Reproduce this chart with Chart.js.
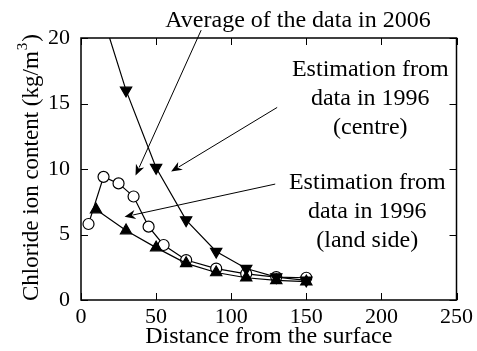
<!DOCTYPE html>
<html>
<head>
<meta charset="utf-8">
<script src="https://cdn.jsdelivr.net/npm/chart.js@4/dist/chart.umd.min.js"></script>
<style>
  html, body { margin: 0; padding: 0; background: #fff; }
  #wrap { width: 477px; height: 351px; }
</style>
</head>
<body>
<div id="wrap"><canvas id="chloride" width="477" height="351"></canvas></div>
<script>
// Chloride ion content vs depth, three profiles
const xTicks = [0, 50, 100, 150, 200, 250];
const yTicks = [0, 5, 10, 15, 20];

// average of the data in 2006 (first point runs off the top)
const avgDepth = [10, 30, 50, 70, 90, 110, 130, 150];
const avgCl    = [23.3, 16.0, 10.1, 6.1, 3.7, 2.4, 1.75, 1.5];

// estimation from 1996 data, centre
const centreDepth = [5, 15, 25, 35, 45, 55, 70, 90, 110, 130, 150];
const centreCl    = [5.8, 9.4, 8.9, 7.9, 5.6, 4.2, 3.05, 2.4, 2.0, 1.75, 1.7];

// estimation from 1996 data, land side
const landDepth = [10, 30, 50, 70, 90, 110, 130, 150];
const landCl    = [6.9, 5.3, 4.0, 2.8, 2.1, 1.7, 1.5, 1.4];

const FONT = '"Liberation Serif", "Times New Roman", serif';

function pts(xs, ys) {
  return xs.map((x, i) => ({ x: x, y: ys[i] }));
}

// callout labels with arrows, in data units
const notes = [
  { lines: ['Average of the data in 2006'], x: 144.5, y: 21.34, from: [80, 20.6], to: [36.3, 9.5] },
  { lines: ['Estimation from', 'data in 1996', '(centre)'], x: 192.6, y: 17.56, from: [130.6, 14.7], to: [60, 9.8] },
  { lines: ['Estimation from', 'data in 1996', '(land side)'], x: 190.6, y: 8.93, from: [129.3, 8.85], to: [29, 6.35] }
];

// frame + inward ticks on all four sides
const framePlugin = {
  id: 'frame',
  afterDraw(chart) {
    const { ctx, chartArea: a, scales } = chart;
    ctx.save();
    ctx.strokeStyle = '#000';
    ctx.lineWidth = 1.5;
    ctx.strokeRect(a.left, a.top, a.right - a.left, a.bottom - a.top);
    ctx.lineWidth = 1;
    const len = 7;
    ctx.beginPath();
    xTicks.forEach(v => {
      const px = Math.round(scales.x.getPixelForValue(v)) + 0.5;
      ctx.moveTo(px, a.bottom); ctx.lineTo(px, a.bottom - len);
      ctx.moveTo(px, a.top); ctx.lineTo(px, a.top + len);
    });
    yTicks.forEach(v => {
      const py = Math.round(scales.y.getPixelForValue(v)) + 0.5;
      ctx.moveTo(a.left, py); ctx.lineTo(a.left + len, py);
      ctx.moveTo(a.right, py); ctx.lineTo(a.right - len, py);
    });
    ctx.stroke();
    ctx.restore();
  }
};

// y title with a real superscript 3
const yTitlePlugin = {
  id: 'ytitle',
  afterDraw(chart) {
    const ctx = chart.ctx;
    ctx.save();
    ctx.fillStyle = '#000';
    ctx.translate(37.5, 301);
    ctx.rotate(-Math.PI / 2);
    ctx.textAlign = 'left';
    ctx.textBaseline = 'alphabetic';
    ctx.font = '23px ' + FONT;
    const main = 'Chloride ion content (kg/m';
    ctx.fillText(main, 0, 0);
    let w = ctx.measureText(main).width + 1;
    ctx.font = '15px ' + FONT;
    ctx.fillText('3', w, -11);
    w += ctx.measureText('3').width + 1;
    ctx.font = '23px ' + FONT;
    ctx.fillText(')', w, 0);
    ctx.restore();
  }
};

const notePlugin = {
  id: 'notes',
  afterDraw(chart) {
    const { ctx, scales } = chart;
    const sx = v => scales.x.getPixelForValue(v);
    const sy = v => scales.y.getPixelForValue(v);
    ctx.save();
    ctx.fillStyle = '#000';
    ctx.strokeStyle = '#000';
    ctx.lineWidth = 1;
    ctx.font = '24px ' + FONT;
    ctx.textAlign = 'center';
    ctx.textBaseline = 'middle';
    notes.forEach(n => {
      n.lines.forEach((t, i) => ctx.fillText(t, sx(n.x), sy(n.y) + i * 28.8));
      const x1 = sx(n.from[0]), y1 = sy(n.from[1]);
      const x2 = sx(n.to[0]), y2 = sy(n.to[1]);
      const ang = Math.atan2(y2 - y1, x2 - x1);
      const hl = 11, hw = 4.5;
      ctx.beginPath();
      ctx.moveTo(x1, y1);
      ctx.lineTo(x2 - Math.cos(ang) * hl * 0.8, y2 - Math.sin(ang) * hl * 0.8);
      ctx.stroke();
      ctx.beginPath();
      ctx.moveTo(x2, y2);
      ctx.lineTo(x2 - Math.cos(ang) * hl - Math.sin(ang) * hw, y2 - Math.sin(ang) * hl + Math.cos(ang) * hw);
      ctx.lineTo(x2 - Math.cos(ang) * hl * 0.7, y2 - Math.sin(ang) * hl * 0.7);
      ctx.lineTo(x2 - Math.cos(ang) * hl + Math.sin(ang) * hw, y2 - Math.sin(ang) * hl - Math.cos(ang) * hw);
      ctx.closePath();
      ctx.fill();
    });
    ctx.restore();
  }
};

Chart.defaults.font.family = FONT;
Chart.defaults.color = '#000';

new Chart(document.getElementById('chloride'), {
  type: 'line',
  data: {
    datasets: [
      {
        label: 'Average of the data in 2006',
        data: pts(avgDepth, avgCl),
        borderColor: '#000', borderWidth: 1.2,
        pointStyle: 'triangle', rotation: 180, pointRadius: 6.5,
        pointBackgroundColor: '#000', pointBorderColor: '#000',
        order: 1
      },
      {
        label: 'Estimation from data in 1996 (land side)',
        data: pts(landDepth, landCl),
        borderColor: '#000', borderWidth: 1.2,
        pointStyle: 'triangle', pointRadius: 6.5,
        pointBackgroundColor: '#000', pointBorderColor: '#000',
        order: 2
      },
      {
        label: 'Estimation from data in 1996 (centre)',
        data: pts(centreDepth, centreCl),
        borderColor: '#000', borderWidth: 1.2,
        pointStyle: 'circle', pointRadius: 5.5,
        pointBackgroundColor: '#fff', pointBorderColor: '#000', pointBorderWidth: 1.2,
        order: 3
      }
    ]
  },
  options: {
    responsive: false,
    animation: false,
    events: [],
    layout: { padding: { left: 0, right: 17, top: 38, bottom: 0 } },
    plugins: { legend: { display: false }, tooltip: { enabled: false } },
    scales: {
      x: {
        type: 'linear', min: 0, max: 250,
        afterBuildTicks: s => { s.ticks = xTicks.map(v => ({ value: v })); },
        afterFit: s => { s.height = 51; },
        grid: { display: false, drawTicks: false },
        border: { display: false },
        ticks: { font: { size: 22 }, padding: 4, maxRotation: 0 },
        title: { display: true, text: 'Distance from the surface', font: { size: 24 }, padding: { top: 0, bottom: 0 } }
      },
      y: {
        type: 'linear', min: 0, max: 20,
        afterBuildTicks: s => { s.ticks = yTicks.map(v => ({ value: v })); },
        afterFit: s => { s.width = 81; },
        grid: { display: false, drawTicks: false },
        border: { display: false },
        ticks: { font: { size: 22 }, padding: 11 }
      }
    }
  },
  plugins: [framePlugin, yTitlePlugin, notePlugin]
});
</script>
</body>
</html>
